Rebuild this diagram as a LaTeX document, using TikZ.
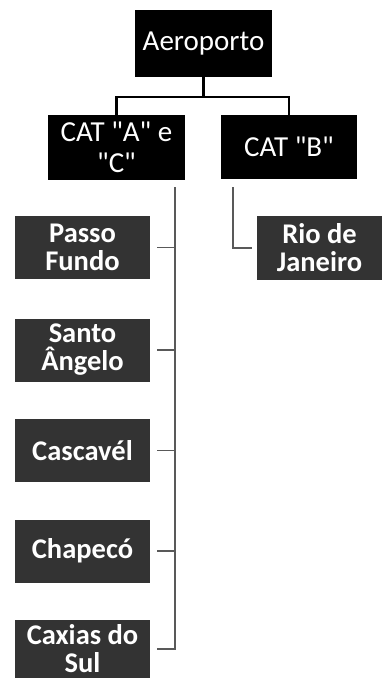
\documentclass[tikz,border=0pt]{standalone}
\usepackage{fontspec}
\setmainfont{Carlito}
\usepackage{xcolor}
\usetikzlibrary{positioning,calc}
\tikzset{
  cat/.style={rectangle,fill=black,text=white,inner sep=0pt,align=center,
    font=\fontsize{29}{31}\selectfont},
  leaf/.style={rectangle,fill=black!80,text=white,inner sep=0pt,align=center,
    minimum width=135pt,minimum height=63pt,font=\fontsize{28.5}{28}\selectfont\bfseries},
  bracket/.style={draw=black,line width=2.2pt},
  branch/.style={draw=black!65,line width=1.6pt},
}
\newcommand{\qq}{\textquotedbl}

\begin{document}
\begin{tikzpicture}[x=1pt,y=-1pt]
  \useasboundingbox (0,0) rectangle (382,679);
  % top level
  \node[cat,minimum width=137pt,minimum height=67pt] (aero) at (203.5,43.5){Aeroporto};
  \node[cat,minimum width=137pt,minimum height=65pt] (catac) at (116.5,147.5){CAT \qq A\qq{} e\\\qq C\qq};
  \node[cat,minimum width=136pt,minimum height=64pt] (catb) at (289,147){CAT \qq B\qq};
  \coordinate (split) at (203.5,97);
  \draw[bracket] (aero.south) -- (split);
  \draw[bracket] (catac.north) |- (split) -| (catb.north);
  % leaves
  \node[leaf] (passo) at (82.5,247.5){Passo\\Fundo};
  \node[leaf] (santo) at (82.5,350){Santo\\Ângelo};
  \node[leaf] (casc) at (82.5,450.5){Cascavél};
  \node[leaf] (chap) at (82.5,551){Chapecó};
  \node[leaf,minimum height=58pt] (caxias) at (82.5,649){Caxias do\\Sul};
  \node[leaf,minimum width=125pt,minimum height=64pt] (rio) at (319.5,248){Rio de\\Janeiro};
  \coordinate (trunk) at (175,187);
  \coordinate (trunkb) at (233,187);
  \foreach \n in {passo,santo,casc,chap,caxias}
    \draw[branch,shorten >=7pt] (trunk) |- (\n.east);
  \draw[branch,shorten >=5pt] (trunkb) |- (rio.west);
\end{tikzpicture}
\end{document}
